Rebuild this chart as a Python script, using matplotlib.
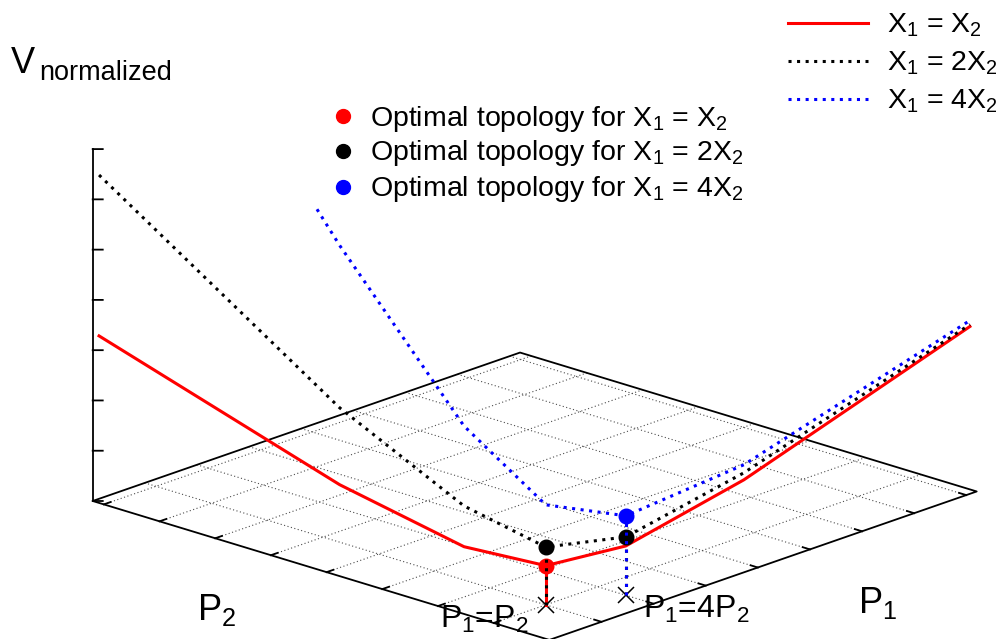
import numpy as np
import matplotlib.pyplot as plt
from mpl_toolkits.mplot3d import proj3d

plt.rcParams['font.family'] = ['Liberation Sans', 'DejaVu Sans']
plt.rcParams['mathtext.fontset'] = 'custom'
plt.rcParams['mathtext.rm'] = 'Liberation Sans'
plt.rcParams['mathtext.default'] = 'regular'

# values (P in grid units, V in z-tick units)
P1 = [0.122, 0.25, 0.5, 1, 2, 4, 8.2]
P2 = [8.2, 4, 2, 1, 0.5, 0.25, 0.122]
V_eq = [3.24, 1.65, 1.00, 0.78, 0.98, 1.66, 3.24]    # X1 = X2
V_2x = [6.44, 3.18, 1.81, 1.15, 1.16, 1.80, 3.28]    # X1 = 2X2
V_4x = [12.68, 6.41, 3.40, 1.99, 1.58, 1.96, 3.36]   # X1 = 4X2 (clipped at top)
opt_eq = [3]          # index of optimal topology points
opt_2x = [3, 4]
opt_4x = [4]
marks = [3, 4]        # crosses on the floor
mark_labels = ["P$_1$=P$_2$", "P$_1$=4P$_2$"]

P_MAX = 8.2
Z_MAX = 7
grid_ticks = [1, 2, 3, 4, 5, 6, 7, 8]
z_ticks = [0, 1, 2, 3, 4, 5, 6, 7]

W, H = 1007, 639
fig = plt.figure(figsize=(W / 100, H / 100), dpi=100)
ax = fig.add_axes([0, 0, 1, 1], projection='3d')
ax.set_proj_type('ortho')
ax.view_init(elev=18.97, azim=223.1)
ax.set_xlim(0, P_MAX)
ax.set_ylim(0, P_MAX)
ax.set_zlim(0, Z_MAX)
ax.set_box_aspect((1, 1, 0.595))
ax.set_axis_off()
ax.computed_zorder = False


def to_px(x, y, z):
    xs, ys, _ = proj3d.proj_transform(np.array([x]), np.array([y]), np.array([z]), ax.get_proj())
    return ax.transData.transform((xs[0], ys[0]))


# place the 3d box so the floor corners land where gnuplot put them
fig.canvas.draw()
t_left = np.array([92.7, H - 501.0])
t_right = np.array([976.7, H - 491.7])
p_left = to_px(0, P_MAX, 0)
p_right = to_px(P_MAX, 0, 0)
s = np.linalg.norm(t_right - t_left) / np.linalg.norm(p_right - p_left)
pos = ax.get_position()
x0, y0, w = pos.x0 * W, pos.y0 * H, pos.width * W
u = (p_left - np.array([x0, y0])) / w
w2 = w * s
o2 = t_left - w2 * u
ax.set_position([o2[0] / W, o2[1] / H, w2 / W, w2 / H])


def clip_top(xs, ys, zs, top):
    # cut the polyline where it leaves through the top of the box
    px, py, pz = [], [], []
    for i in range(len(xs) - 1):
        a = np.array([xs[i], ys[i], zs[i]], float)
        b = np.array([xs[i + 1], ys[i + 1], zs[i + 1]], float)
        if a[2] > top and b[2] > top:
            continue
        if a[2] > top:
            a = b + (a - b) * (top - b[2]) / (a[2] - b[2])
        if b[2] > top:
            b = a + (b - a) * (top - a[2]) / (b[2] - a[2])
        if not (px and np.allclose(a, [px[-1], py[-1], pz[-1]])):
            if px:
                px.append(np.nan); py.append(np.nan); pz.append(np.nan)
            px.append(a[0]); py.append(a[1]); pz.append(a[2])
        px.append(b[0]); py.append(b[1]); pz.append(b[2])
    return px, py, pz


# floor grid
grid_kw = dict(color='0.3', lw=0.8, ls=(0, (1, 2.2)), zorder=1)
for t in grid_ticks:
    ax.plot([t, t], [0, P_MAX], [0, 0], **grid_kw)
    ax.plot([0, P_MAX], [t, t], [0, 0], **grid_kw)

# floor border and tics on the front edges
bk = dict(color='black', lw=1.3, zorder=2)
ax.plot([0, P_MAX, P_MAX, 0, 0], [0, 0, P_MAX, P_MAX, 0], [0] * 5, **bk)
tl = 0.13
for t in grid_ticks:
    ax.plot([t, t], [0, tl], [0, 0], **bk)
    ax.plot([0, tl], [t, t], [0, 0], **bk)

# vertical axis
ax.plot([0, 0], [P_MAX, P_MAX], [0, Z_MAX], **bk)
for z in z_ticks:
    ax.plot([0, 0.09], [P_MAX, P_MAX - 0.096], [z, z], **bk)

# floor crosses
for m in marks:
    ax.plot([P1[m]], [P2[m]], [0], marker='x', ms=11, mew=1.1, color='black', ls='none', zorder=3)

series = [
    (V_eq, opt_eq, dict(color='#ff0000', lw=2.2, ls='-')),
    (V_2x, opt_2x, dict(color='black', lw=2.2, ls=(0, (1, 1.8)))),
    (V_4x, opt_4x, dict(color='#0000ff', lw=2.2, ls=(0, (1, 1.8)))),
]
zo = 4
for vals, opt, st in series:
    cx, cy, cz = clip_top(P1, P2, vals, Z_MAX)
    ax.plot(cx, cy, cz, zorder=zo, **st)
    for i in opt:
        ax.plot([P1[i], P1[i]], [P2[i], P2[i]], [0, vals[i]], zorder=zo + 1, **st)
    ax.plot([P1[i] for i in opt], [P2[i] for i in opt], [vals[i] for i in opt],
            marker='o', ms=10.5, color=st['color'], ls='none', zorder=zo + 2)
    zo += 3

# overlay for labels and keys, in pixel units
ov = fig.add_axes([0, 0, 1, 1], zorder=5)
ov.set_xlim(0, W)
ov.set_ylim(H, 0)
ov.axis('off')

ov.text(11, 73, "V", fontsize=26, va='baseline')
ov.text(39, 80, "normalized", fontsize=19.5, va='baseline')
ov.text(197, 620, "P$_2$", fontsize=26, va='baseline')
ov.text(858, 613, "P$_1$", fontsize=26, va='baseline')
ov.text(440, 628, mark_labels[0], fontsize=23, va='baseline')
ov.text(643, 618, mark_labels[1], fontsize=23, va='baseline')

key_names = ["X$_1$ = X$_2$", "X$_1$ = 2X$_2$", "X$_1$ = 4X$_2$"]
key_rows = [23, 61, 99]
for (vals, opt, st), name, yk in zip(series, key_names, key_rows):
    ov.plot([788, 868], [yk, yk], **st)
    ov.text(887, yk + 9.5, name, fontsize=20.5, va='baseline')

opt_names = ["Optimal topology for X$_1$ = X$_2$",
             "Optimal topology for X$_1$ = 2X$_2$",
             "Optimal topology for X$_1$ = 4X$_2$"]
opt_rows = [116, 151, 187]
for (vals, opt, st), name, yk in zip(series, opt_names, opt_rows):
    ov.plot([343], [yk], marker='o', ms=10, color=st['color'], ls='none')
    ov.text(370, yk + 9.5, name, fontsize=20.5, va='baseline')

fig.savefig('out.png', dpi=100)
